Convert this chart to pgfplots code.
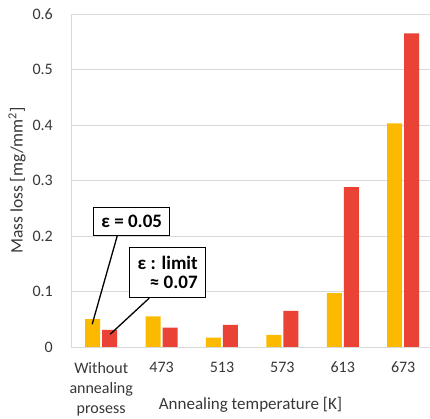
\documentclass[border=0pt]{standalone}
\usepackage{pgfplots}
\pgfplotsset{compat=1.18}
\usepackage{fontspec}
\setmainfont{Carlito}
\usetikzlibrary{calc}
\definecolor{cyel}{RGB}{251,186,0}
\definecolor{cred}{RGB}{234,67,53}
\definecolor{gridc}{RGB}{217,217,217}
\definecolor{txt}{RGB}{55,55,55}
\begin{document}
\begin{tikzpicture}
\begin{axis}[
  scale only axis, width=359pt, height=333pt,
  xmin=-0.5, xmax=5.444, ymin=0, ymax=0.6,
  ytick={0,0.1,0.2,0.3,0.4,0.5,0.6},
  yticklabels={0,0.1,0.2,0.3,0.4,0.5,0.6},
  xtick={0,1,2,3,4,5},
  xticklabels={{Without\\annealing\\prosess},473,513,573,613,673},
  xticklabel style={align=center, anchor=north, inner sep=0pt, yshift=-15pt, font=\fontsize{16}{20}\selectfont, text=txt},
  yticklabel style={anchor=east, inner sep=0pt, xshift=-18pt, font=\fontsize{16}{18}\selectfont, text=txt},
  major tick length=0pt,
  ymajorgrids, grid style={draw=gridc, line width=0.8pt},
  axis x line*=bottom, axis y line*=left,
  axis line style={-, draw=gridc, line width=0.8pt},
  ybar, bar width=15pt,
  xlabel={Annealing temperature [K]},
  ylabel={Mass loss [mg/mm\textsuperscript{2}]},
  xlabel style={at={(rel axis cs:0.5,0)}, anchor=center, yshift=-58pt, font=\fontsize{17}{20}\selectfont, text=txt},
  ylabel style={at={(rel axis cs:0,0.5)}, anchor=center, yshift=54pt, font=\fontsize{17.5}{20}\selectfont, text=txt},
  clip=false,
]
\addplot[fill=cyel, draw=none, bar shift=-8.5pt] coordinates {(0,0.050) (1,0.055) (2,0.017) (3,0.022) (4,0.097) (5,0.403)};
\addplot[fill=cred, draw=none, bar shift=8.5pt] coordinates {(0,0.031) (1,0.035) (2,0.040) (3,0.065) (4,0.288) (5,0.565)};
\draw[line width=1.3pt] (axis cs:0.265,0.2) -- (axis cs:-0.149,0.041);
\draw[line width=1.3pt] (axis cs:0.795,0.088) -- (axis cs:0.149,0.023);
\node[draw, line width=1.5pt, fill=white, font=\fontsize{19}{19}\selectfont\bfseries, minimum width=76pt, minimum height=28pt, inner sep=1pt] at (axis cs:0.505,0.226) {ε = 0.05};
\node[draw, line width=1.5pt, fill=white, font=\fontsize{19}{19}\selectfont\bfseries, align=right, minimum width=76pt, minimum height=50pt, inner sep=2pt] at (axis cs:1.101,0.134) {ε : limit\\ ≈ 0.07};
\coordinate (O) at (rel axis cs:0,0);
\coordinate (T) at (rel axis cs:1,1);
\end{axis}
\pgfresetboundingbox
\path[use as bounding box] ($(O)+(-71pt,-72pt)$) rectangle ($(T)+(0pt,14pt)$);
\end{tikzpicture}
\end{document}
